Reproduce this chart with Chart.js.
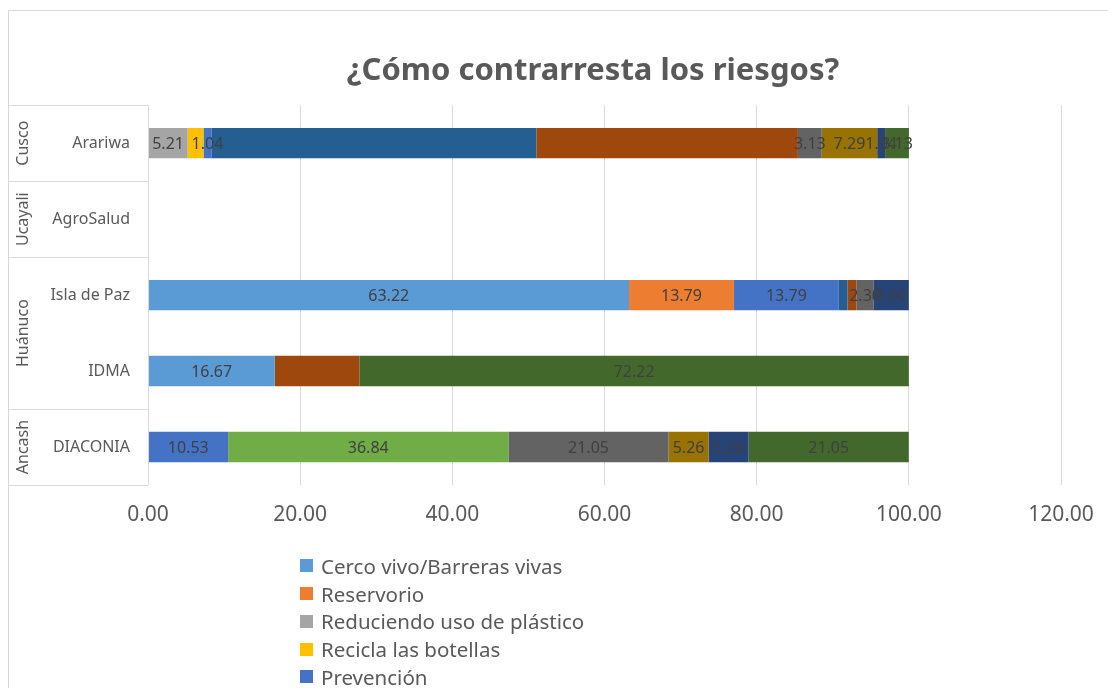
<!DOCTYPE html>
<html>
<head>
<meta charset="utf-8">
<script src="https://cdn.jsdelivr.net/npm/chart.js@4/dist/chart.umd.min.js"></script>
<style>
    html, body { margin: 0; padding: 0; background: #fff; overflow: hidden; }
    #wrap { position: relative; width: 1186px; height: 688px; }
    #legend {
        position: absolute; left: 300px; top: 552px; margin: 0; padding: 0; list-style: none;
        font-family: "Noto Sans", sans-serif; font-size: 20.5px; color: #595959;
    }
    #legend li { display: flex; align-items: center; height: 27.75px; white-space: nowrap; }
    #legend span { display: inline-block; width: 13px; height: 13px; margin-right: 8px; }
</style>
</head>
<body>
<div id="wrap">
    <canvas id="chart"></canvas>
    <ul id="legend"></ul>
</div>
<script>
// rows, top to bottom
const organizations = ["Arariwa", "AgroSalud", "Isla de Paz", "IDMA", "DIACONIA"];
const regions = ["Cusco", "Ucayali", "Huánuco", "Huánuco", "Ancash"];
const xTicks = [0, 20, 40, 60, 80, 100, 120];

const seriesNames = [
    "Cerco vivo/Barreras vivas",
    "Reservorio",
    "Reduciendo uso de plástico",
    "Recicla las botellas",
    "Prevención",
    "Serie 6",
    "Serie 7",
    "Serie 8",
    "Serie 9",
    "Serie 10",
    "Serie 11",
    "Serie 12",
];

const cercoVivo     = [null, null, 63.22, 16.67, null];
const reservorio    = [null, null, 13.79, null, null];
const reduciendo    = [5.21, null, null, null, null];
const recicla       = [2.08, null, null, null, null];
const prevencion    = [1.04, null, 13.79, null, 10.53];
const serie6        = [null, null, null, null, 36.84];
const serie7        = [42.71, null, 1.15, null, null];
const serie8        = [34.38, null, 1.15, 11.11, null];
const serie9        = [3.13, null, 2.30, null, 21.05];
const serie10       = [7.29, null, null, null, 5.26];
const serie11       = [1.04, null, 4.60, null, 5.26];
const serie12       = [3.13, null, null, 72.22, 21.05];

const seriesValues = [cercoVivo, reservorio, reduciendo, recicla, prevencion, serie6,
    serie7, serie8, serie9, serie10, serie11, serie12];
const seriesLabelled = [true, true, true, false, true, true, false, false, true, true, true, true];

const colors = ["#5B9BD5", "#ED7D31", "#A5A5A5", "#FFC000", "#4472C4", "#70AD47",
    "#255E91", "#9E480E", "#636363", "#997300", "#264478", "#43682B"];

const FONT = "'Noto Sans', sans-serif";
const TEXT = "#595959";
const LINE = "#D9D9D9";

// outer frame of the chart object
const framePlugin = {
    id: "frame",
    beforeDraw(chart) {
        const ctx = chart.ctx;
        ctx.save();
        ctx.strokeStyle = LINE;
        ctx.lineWidth = 1;
        ctx.strokeRect(8.5, 10.5, 1400, 1000);
        ctx.restore();
    },
};

// the two-level category table on the left (organization + region)
const groupPlugin = {
    id: "groups",
    afterDraw(chart) {
        const ctx = chart.ctx;
        const y = chart.scales.y;
        const band = (y.bottom - y.top) / organizations.length;
        const left = 8.5;
        const right = chart.chartArea.left;
        ctx.save();
        ctx.strokeStyle = LINE;
        ctx.lineWidth = 1;
        const edges = [0];
        for (let i = 1; i < regions.length; i++) {
            if (regions[i] !== regions[i - 1]) edges.push(i);
        }
        edges.push(regions.length);
        edges.forEach((i) => {
            const py = Math.round(y.top + i * band) + 0.5;
            ctx.beginPath();
            ctx.moveTo(left, py);
            ctx.lineTo(right, py);
            ctx.stroke();
        });
        ctx.beginPath();
        ctx.moveTo(right + 0.5, y.top);
        ctx.lineTo(right + 0.5, y.bottom);
        ctx.stroke();

        ctx.fillStyle = TEXT;
        ctx.font = `16px ${FONT}`;
        ctx.textBaseline = "middle";

        ctx.textAlign = "right";
        organizations.forEach((name, i) => {
            ctx.fillText(name, right - 18, y.getPixelForValue(i));
        });

        ctx.textAlign = "center";
        for (let k = 0; k < edges.length - 1; k++) {
            const cy = y.top + ((edges[k] + edges[k + 1]) / 2) * band;
            ctx.save();
            ctx.translate(23, cy);
            ctx.rotate(-Math.PI / 2);
            ctx.fillText(regions[edges[k]], 0, 0);
            ctx.restore();
        }
        ctx.restore();
    },
};

// value labels centred in each segment
const valueLabelPlugin = {
    id: "valueLabels",
    afterDatasetsDraw(chart) {
        const ctx = chart.ctx;
        ctx.save();
        ctx.fillStyle = "#404040";
        ctx.font = `16px ${FONT}`;
        ctx.textAlign = "center";
        ctx.textBaseline = "middle";
        chart.data.datasets.forEach((dataset, di) => {
            if (!seriesLabelled[di]) return;
            chart.getDatasetMeta(di).data.forEach((bar, i) => {
                const value = dataset.data[i];
                if (value == null) return;
                ctx.fillText(value.toFixed(2), (bar.x + bar.base) / 2, bar.y + 1);
            });
        });
        ctx.restore();
    },
};

const datasets = seriesNames.map((name, i) => ({
    label: name,
    data: seriesValues[i],
    backgroundColor: colors[i],
    borderWidth: 0,
    barPercentage: 0.4,
    categoryPercentage: 1,
}));

const chart = new Chart(document.getElementById("chart"), {
    type: "bar",
    data: { labels: organizations, datasets },
    options: {
        indexAxis: "y",
        responsive: true,
        maintainAspectRatio: false,
        animation: false,
        // left/right padding kept equal so the title centres like the original
        layout: { padding: { left: 125, right: 125, top: 0, bottom: 0 } },
        plugins: {
            legend: { display: false },
            tooltip: { enabled: false },
            title: {
                display: true,
                text: "¿Cómo contrarresta los riesgos?",
                color: TEXT,
                font: { family: FONT, size: 31, weight: "bold" },
                padding: { top: 53, bottom: 15 },
            },
        },
        scales: {
            x: {
                stacked: true,
                min: 0,
                max: 120,
                afterBuildTicks: (scale) => {
                    scale.ticks = xTicks.map((value) => ({ value }));
                },
                afterFit: (scale) => { scale.height = 203; },
                grid: { color: LINE, drawTicks: false },
                border: { display: false },
                ticks: {
                    color: TEXT,
                    padding: 17,
                    font: { family: FONT, size: 21 },
                    callback: (value) => Number(value).toFixed(2),
                },
            },
            y: {
                stacked: true,
                afterFit: (scale) => { scale.width = 23; },
                grid: { display: false, drawTicks: false },
                border: { display: false },
                ticks: { display: false },
            },
        },
    },
    plugins: [framePlugin, groupPlugin, valueLabelPlugin],
});

const legend = document.getElementById("legend");
chart.data.datasets.forEach((dataset) => {
    const item = document.createElement("li");
    const swatch = document.createElement("span");
    swatch.style.background = dataset.backgroundColor;
    item.appendChild(swatch);
    item.appendChild(document.createTextNode(dataset.label));
    legend.appendChild(item);
});
</script>
</body>
</html>
